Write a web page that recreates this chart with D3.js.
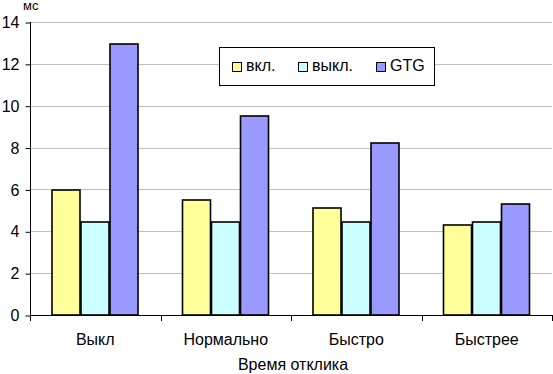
<!DOCTYPE html>
<html>
<head>
<meta charset="utf-8">
<script src="https://cdn.jsdelivr.net/npm/d3@7"></script>
<style>
  body { margin: 0; background: #fff; }
  text { font-family: "Liberation Sans", Arial, sans-serif; fill: #000; }
</style>
</head>
<body>
<svg id="chart" width="553" height="374"></svg>
<script>
var categories = ['Выкл', 'Нормально', 'Быстро', 'Быстрее'];
var seriesNames = ['вкл.', 'выкл.', 'GTG'];
var seriesOn = [5.95, 5.5, 5.1, 4.3];
var seriesOff = [4.43, 4.43, 4.43, 4.43];
var seriesGtg = [12.95, 9.5, 8.2, 5.3];
var yTicks = [0, 2, 4, 6, 8, 10, 12, 14];
var colors = ['#ffff99', '#ccffff', '#9999ff'];

var svg = d3.select('#chart');
var plotLeft = 30, plotRight = 552, plotTop = 22, plotBottom = 315;
var fontFamily = '"Liberation Sans", Arial, sans-serif';

var x = d3.scaleBand().domain(categories).range([plotLeft, plotRight]);
var y = d3.scaleLinear().domain([0, 14]).range([plotBottom, plotTop]);

// three bars per band, gap width 150% split on both sides
var bw = x.bandwidth() / 4.5;
var gap = bw * 0.75;
var allSeries = [seriesOn, seriesOff, seriesGtg];

// gridlines
svg.append('g').selectAll('line')
  .data(yTicks.filter(function(d) { return d > 0; }))
  .join('line')
  .attr('x1', plotLeft).attr('x2', plotRight)
  .attr('y1', function(d) { return Math.round(y(d)) + 0.5; })
  .attr('y2', function(d) { return Math.round(y(d)) + 0.5; })
  .attr('stroke', '#c0c0c0');

// bars
var groups = svg.append('g').selectAll('g')
  .data(categories)
  .join('g')
  .attr('transform', function(d) { return 'translate(' + x(d) + ',0)'; });

groups.selectAll('rect')
  .data(function(d, i) {
    return allSeries.map(function(s, k) { return {k: k, v: s[i]}; });
  })
  .join('rect')
  .attr('x', function(d) { return Math.round(gap + d.k * bw); })
  .attr('y', function(d) { return Math.round(y(d.v)); })
  .attr('width', Math.round(bw) - 1)
  .attr('height', function(d) { return Math.round(plotBottom - y(d.v)); })
  .attr('fill', function(d) { return colors[d.k]; })
  .attr('stroke', '#000')
  .attr('stroke-width', 1.6);

// y axis
var yAxis = svg.append('g')
  .attr('transform', 'translate(' + (plotLeft + 0.5) + ',0.5)')
  .call(d3.axisLeft(y).tickValues(yTicks).tickSize(5).tickPadding(6));
yAxis.selectAll('text').style('font-size', '16px').attr('font-family', fontFamily);
yAxis.selectAll('path, line').attr('stroke', '#000');
yAxis.select('.domain').attr('d', 'M0,' + (plotTop - 0.5) + 'V' + plotBottom);

// x axis
var xAxis = svg.append('g')
  .attr('transform', 'translate(0,' + (plotBottom + 0.5) + ')')
  .call(d3.axisBottom(x).tickSize(0).tickPadding(18));
xAxis.select('.domain').attr('d', 'M' + plotLeft + ',0H' + plotRight).attr('stroke', '#000');
xAxis.selectAll('text').style('font-size', '16px').attr('font-family', fontFamily);
svg.append('g').selectAll('line')
  .data(d3.range(categories.length + 1))
  .join('line')
  .attr('x1', function(i) { return Math.round(plotLeft + i * x.bandwidth()) + 0.5; })
  .attr('x2', function(i) { return Math.round(plotLeft + i * x.bandwidth()) + 0.5; })
  .attr('y1', plotBottom).attr('y2', plotBottom + 6)
  .attr('stroke', '#000');

// axis titles
svg.append('text').attr('x', 23).attr('y', 10).style('font-size', '13px').text('мс');
svg.append('text').attr('x', 293).attr('y', 370)
  .attr('text-anchor', 'middle').style('font-size', '16px').text('Время отклика');

// legend
var legend = svg.append('g');
legend.append('rect').attr('x', 219.5).attr('y', 47.5).attr('width', 215).attr('height', 38)
  .attr('fill', '#fff').attr('stroke', '#000');
var legendX = [232, 298, 376];
legendX.forEach(function(lx, i) {
  legend.append('rect').attr('x', lx + 0.5).attr('y', 62.5).attr('width', 9).attr('height', 9)
    .attr('fill', colors[i]).attr('stroke', '#000');
  legend.append('text').attr('x', lx + 14).attr('y', 71).style('font-size', '16px').text(seriesNames[i]);
});
</script>
</body>
</html>
